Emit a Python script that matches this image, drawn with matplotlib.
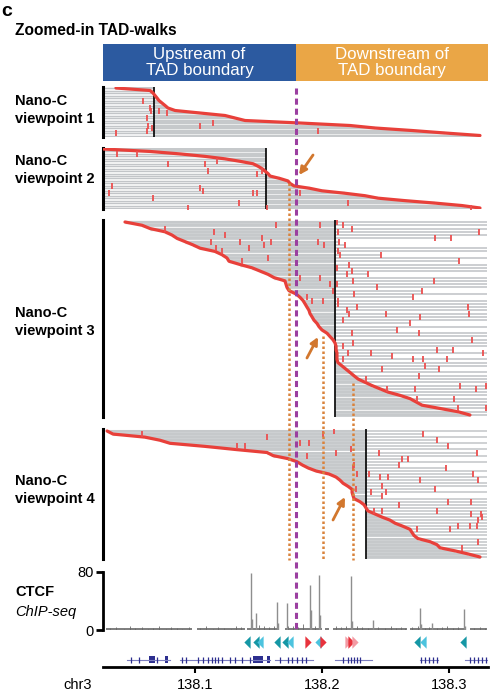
import numpy as np
import matplotlib
matplotlib.use("Agg")
import matplotlib.pyplot as plt

plt.rcParams['font.family'] = ['Liberation Sans', 'DejaVu Sans']

W, H = 491, 696
X0, X1 = 27.6, 330.4          # window, kb past chr3:138,000,000
BOUNDARY = 179.4              # TAD boundary (purple dashed)

# ---- TAD-walk data (kb past 138 Mb), one value per walk row ----
vp1_pos = 67.7
vp1_curve = [37.8, 64.6, 66.9, 68.5, 70.1, 71.6, 74.0, 76.4, 78.7, 84.3,
             103.9, 123.6, 131.4, 139.3, 182.5, 221.9, 241.5, 270.6, 296.6, 324.1]
vp1_ticks = [(5, 59.1), (8, 64.6), (9, 65.4), (9, 71.6), (10, 77.9), (12, 62.2),
             (15, 63.0), (16, 66.1), (17, 62.2), (18, 37.8), (15, 103.9),
             (14, 114.1), (17, 196.7)]

vp2_pos = 155.8
vp2_curve = [27.6, 64.6, 88.2, 107.8, 123.5, 135.3, 145.6, 149.5, 152.7, 155.0,
             157.4, 159.0, 166.8, 173.1, 174.7, 177.8, 190.4, 199.8, 217.9, 233.7,
             243.9, 265.1, 288.7, 309.9, 324.1]
vp2_ticks = [(2, 38.6), (2, 54.3), (6, 78.7), (6, 107.8), (5, 117.3), (9, 110.2),
             (10, 148.7), (9, 152.6), (15, 34.7), (16, 103.9), (17, 106.2),
             (18, 32.3), (18, 145.6), (18, 148.7), (20, 66.9), (22, 134.6),
             (24, 94.5), (18, 182.5), (22, 220.3), (24, 317.0), (24, 156.6)]

vp3_pos = 210.1
vp3_curve = [44.9, 58.3, 64.6, 76.4, 81.9, 85.8, 92.1, 98.4, 103.9, 115.7,
             121.2, 125.1, 126.7, 135.4, 144.8, 151.1, 157.4, 162.1, 170.7, 171.5,
             172.3, 173.9, 179.4, 182.5, 184.9, 186.5, 188.0, 189.6, 190.4, 192.0,
             193.5, 195.9, 197.5, 199.8, 203.8, 206.1, 208.5, 210.1, 210.9, 210.9,
             211.6, 211.6, 211.6, 212.4, 215.6, 218.7, 221.9, 225.0, 228.2, 233.7,
             239.2, 245.5, 251.8, 261.2, 269.1, 273.8, 278.5, 292.6, 306.8, 316.2]
vp3_end = [329.6, 329.6, 329.6, 323.3, 329.6, 301.3, 213.2, 217.9, 329.6, 329.6,
           246.2, 329.6, 307.6, 329.6, 329.6, 329.6, 236.0, 329.6, 329.6, 329.6,
           329.6, 278.5, 329.6, 271.4, 329.6, 329.6, 329.6, 329.6, 329.6, 329.6,
           329.6, 269.1, 329.6, 258.8, 329.6, 329.6, 329.6, 329.6, 329.6, 302.9,
           329.6, 254.9, 329.6, 329.6, 329.6, 291.9, 329.6, 329.6, 329.6, 329.6,
           329.6, 329.6, 329.6, 329.6, 329.6, 329.6, 329.6, 329.6, 329.6, 329.6]
vp3_ticks = [(2, 76.4), (3, 114.9), (4, 123.6), (5, 152.7), (6, 112.5), (6, 135.4),
             (7, 154.2), (6, 159.7), (8, 142.4), (8, 116.5), (9, 121.2), (11, 157.4),
             (12, 136.9), (1, 163.7), (1, 198.3), (6, 196.7), (7, 201.4), (17, 182.5),
             (17, 198.3), (19, 206.1), (21, 208.5), (23, 188.0), (24, 192.0),
             (24, 200.6), (0, 211.6), (9, 212.4), (14, 211.6), (19, 211.6), (24, 212.4),
             (1, 216.7), (2, 223.5), (3, 212.4), (3, 323.3), (5, 301.3), (5, 288.7),
             (6, 213.2), (7, 217.9), (10, 214.0), (10, 246.2), (12, 307.6), (13, 221.1),
             (15, 223.5), (16, 219.5), (16, 236.0), (18, 224.2), (18, 287.9),
             (20, 243.1), (21, 278.5), (22, 225.0), (23, 271.4), (25, 212.4),
             (26, 227.4), (26, 314.7), (28, 315.4), (27, 219.5), (28, 221.1),
             (28, 250.2), (29, 276.9), (30, 216.4), (31, 269.1), (33, 258.8),
             (34, 223.5), (34, 276.1), (36, 317.8), (37, 224.2), (38, 216.4),
             (39, 290.3), (39, 302.9), (40, 220.3), (40, 238.4), (40, 326.5),
             (41, 254.9), (42, 216.4), (42, 271.4), (42, 279.3), (42, 298.2),
             (44, 280.8), (45, 291.9), (45, 247.0), (47, 276.1), (48, 234.4),
             (50, 308.4), (51, 320.9), (50, 329.0), (51, 251.0), (51, 273.0),
             (54, 274.6), (54, 303.7), (57, 306.8), (57, 328.8)]

vp4_pos = 234.4
vp4_curve = [30.8, 35.5, 60.6, 72.4, 80.3, 107.8, 131.4, 156.6, 161.3, 173.1,
             180.2, 184.1, 188.8, 195.1, 205.4, 210.9, 214.0, 216.4, 220.3, 223.5,
             223.5, 224.2, 225.0, 229.7, 232.9, 234.4, 236.0, 241.5, 247.0, 253.3,
             257.3, 263.5, 269.1, 270.6, 272.2, 275.3, 284.7, 290.3, 292.6, 304.4,
             314.7, 324.1]
vp4_end = [329.6, 279.3, 329.6, 290.3, 329.6, 298.9, 329.6, 321.7, 329.6, 267.5,
           329.6, 260.4, 297.4, 329.6, 318.6, 329.6, 322.5, 329.6, 329.6, 288.7,
           329.6, 247.0, 329.6, 329.6, 329.6, 329.6, 329.6, 329.6, 329.6, 329.6,
           329.6, 329.6, 329.6, 329.6, 329.6, 329.6, 329.6, 329.6, 329.6, 329.6,
           329.6, 329.6]
vp4_ticks = [(1, 58.3), (2, 156.6), (5, 133.0), (5, 139.3), (4, 182.5), (4, 189.6),
             (1, 200.6), (0, 209.3), (7, 210.9), (6, 222.7), (8, 188.0), (12, 224.2),
             (14, 227.4), (19, 226.6), (11, 225.0),
             (1, 279.3), (3, 290.3), (5, 298.9), (7, 321.7), (7, 244.7), (9, 267.5),
             (9, 262.8), (11, 260.4), (12, 297.4), (14, 318.6), (14, 236.8),
             (15, 245.4), (15, 251.7), (16, 322.5), (16, 276.9), (18, 247.0),
             (19, 288.7), (20, 238.4), (20, 250.2), (21, 247.0), (23, 298.9),
             (23, 317.0), (24, 260.4), (26, 290.3), (26, 240.7), (26, 247.0),
             (27, 324.9), (27, 317.0), (28, 325.7), (29, 322.5), (31, 306.8),
             (31, 316.2), (31, 321.7), (32, 274.6), (32, 300.5), (36, 322.5),
             (38, 309.9)]

# ---- CTCF ChIP-seq ----
chip_segments = [(30.0, 97.6), (101.5, 139.3), (140.9, 166.0), (170.7, 199.8),
                 (202.2, 205.5), (208.5, 266.7), (269.1, 313.1), (316.2, 330.0)]
peak_kb = [143.8, 147.7, 164.2, 172.5, 190.4, 197.5, 222.4, 240.2, 276.9, 286.1,
           311.8, 144.8, 191.5, 198.5, 223.2, 165.0, 277.7, 312.5]
peak_val = [78.6, 22.9, 38.8, 37.5, 61.7, 75.4, 74.1, 13.7, 30.6, 10, 28.4,
            15, 27, 20, 12, 10, 8, 6]
noise_kb = [33, 38, 44, 49, 53, 58, 63, 67, 72, 77, 81, 86, 90, 95, 104, 109, 114,
            118, 123, 128, 132, 136, 150, 154, 158, 162, 173, 177, 181, 185, 194,
            211, 215, 219, 227, 231, 236, 244, 249, 254, 258, 262, 265, 271, 275,
            281, 284, 290, 294, 298, 303, 307, 319, 324, 328]
noise_val = [3, 4, 2, 5, 3, 4, 2, 3, 5, 2, 4, 3, 2, 4, 3, 5, 2, 4, 3, 2, 6, 4, 7, 5,
             4, 6, 5, 6, 4, 8, 6, 5, 4, 6, 5, 4, 3, 4, 3, 5, 3, 4, 3, 4, 5, 3, 4, 3,
             4, 5, 3, 4, 3, 4, 3]

# ---- CTCF motifs ----
TEAL, LIGHT, MRED, PINK = '#1597a5', '#4cc3de', '#e8323c', '#f39aa3'
motif_kb = [141.1, 148.0, 151.0, 164.2, 170.7, 174.7, 189.1, 196.9, 200.4,
            220.5, 222.4, 225.8, 274.3, 279.5, 310.9]
motif_dir = ['<', '<', '<', '<', '<', '<', '>', '<', '>', '>', '>', '>', '<', '<', '<']
motif_col = [TEAL, TEAL, LIGHT, TEAL, TEAL, LIGHT, MRED, LIGHT, MRED, PINK, MRED,
             PINK, TEAL, LIGHT, TEAL]

# ---- genes ----
gene_spans = [(46.3, 80.3), (88.2, 159.0), (162.9, 192.8), (210.1, 239.2),
              (276.9, 291.1), (312.3, 330.4)]
gene_exons = [[50.0, 56.0, 70.0],
              [89.7, 92.9, 102.3, 106.3, 110.2, 113.4, 115.7, 118.1, 121.2, 127.5,
               131.4, 136.9, 143.2],
              [166.8, 173.1, 176.2, 180.2, 184.1, 187.3],
              [216.4, 220.3, 222.7, 225.0, 227.4, 229.7],
              [277.7, 280.8, 284.0, 287.1, 290.3],
              [316.2, 319.4, 322.5, 325.7, 328.8]]
gene_boxes = [(63.5, 4.7), (76.5, 2.4), (145.6, 7.9), (156.6, 2.0)]

# ---- overlays ----
dotted_kb = [173.9, 200.6, 224.2]
dotted_top = [183, 336, 383]
arrows = [((181.8, 175), (192.8, 155)), ((196.7, 337), (188.0, 358)),
          ((217.9, 497), (208.5, 520))]

RED = '#e8403a'
RED2 = '#ec4f4f'
GREY = '#cdd0d2'
GREY_LINE = '#b3b6b9'
GREY_EXT = '#c2c5c8'
ORANGE = '#d9823b'
PURPLE = '#9b3fa0'


def box(top, bottom, left=103, right=488):
    return [left / W, 1 - bottom / H, (right - left) / W, (bottom - top) / H]


def draw_walks(ax, curve, vp, ticks, spacing, side, ends=None):
    rows = np.arange(len(curve))
    curve = np.array(curve)
    lo = np.minimum(curve, vp)
    hi = np.maximum(curve, vp)
    dense = spacing * 0.72
    ax.hlines(rows, lo, hi, color=GREY, lw=dense)
    ax.hlines(rows, lo, hi, color=GREY_LINE, lw=0.35)
    if side == 'left':
        ax.hlines(rows, X0, lo, color=GREY_EXT, lw=dense * 0.6)
    else:
        ax.hlines(rows, hi, ends, color=GREY_EXT, lw=dense * 0.5)
    ax.plot(curve, rows, color=RED, lw=2.3, zorder=5, solid_joinstyle='round',
            solid_capstyle='round')
    tr, tk = zip(*ticks)
    ax.plot(tk, tr, ls='none', marker='|', ms=4, mew=1.3, color=RED2, zorder=6)
    ax.axvline(vp, color='k', lw=1.2, zorder=4)
    ax.axvline(X0, color='k', lw=2.2, zorder=4, clip_on=False)
    ax.set_xlim(X0, X1)
    ax.set_ylim(len(curve) - 0.5, -0.5)
    ax.axis('off')


fig = plt.figure(figsize=(W / 100, H / 100), dpi=100)

# header
fig.text(1 / W, 1 - 12 / H, 'c', fontsize=14, fontweight='bold', va='center')
fig.text(15 / W, 1 - 30.5 / H, 'Zoomed-in TAD-walks', fontsize=11.2,
         fontweight='bold', va='center')
axh = fig.add_axes(box(44, 81))
axh.barh(0, BOUNDARY - X0, left=X0, height=1, color='#2c5aa0')
axh.barh(0, X1 - BOUNDARY, left=BOUNDARY, height=1, color='#eaa646')
axh.text((X0 + BOUNDARY) / 2, 0, 'Upstream of\nTAD boundary', color='white',
         ha='center', va='center', fontsize=12.2, linespacing=1.1)
axh.text((BOUNDARY + X1) / 2, 0, 'Downstream of\nTAD boundary', color='white',
         ha='center', va='center', fontsize=12.2, linespacing=1.1)
axh.set_xlim(X0, X1)
axh.set_ylim(-0.5, 0.5)
axh.axis('off')

# walk panels: (curve, vp, ticks, top px, bottom px, side, ends, label y)
panels = [(vp1_curve, vp1_pos, vp1_ticks, 88, 135.5, 'left', None, 110),
          (vp2_curve, vp2_pos, vp2_ticks, 149, 208, 'left', None, 170),
          (vp3_curve, vp3_pos, vp3_ticks, 222, 415, 'right', vp3_end, 322),
          (vp4_curve, vp4_pos, vp4_ticks, 431, 557, 'right', vp4_end, 490)]
for i, (cv, vp, tk, top, bot, side, ends, ly) in enumerate(panels):
    sp = (bot - top) / (len(cv) - 1)
    ax = fig.add_axes(box(top - sp / 2, bot + sp / 2))
    draw_walks(ax, cv, vp, tk, sp, side, ends)
    fig.text(15 / W, 1 - ly / H, f'Nano-C\nviewpoint {i + 1}', fontsize=10.5,
             fontweight='bold', va='center', ha='left', linespacing=1.35)

# CTCF ChIP-seq
axc = fig.add_axes(box(571.7, 630))
for s, e in chip_segments:
    axc.plot([s, e], [1.2, 1.2], color='#5a5a5a', lw=1.1, solid_capstyle='butt')
axc.vlines(noise_kb, 0, noise_val, color='#6a6a6a', lw=0.6)
axc.vlines(peak_kb, 0, peak_val, color='#8e8e8e', lw=1.0)
axc.set_xlim(X0, X1)
axc.set_ylim(0, 80)
for s in ['top', 'right', 'bottom']:
    axc.spines[s].set_visible(False)
axc.spines['left'].set_linewidth(2)
axc.set_xticks([])
axc.set_yticks([0, 80])
axc.tick_params(axis='y', length=5, width=2, labelsize=10.5, pad=2)
fig.text(15 / W, 1 - 592 / H, 'CTCF', fontsize=10.5, fontweight='bold', va='center')
fig.text(15 / W, 1 - 612 / H, 'ChIP-seq', fontsize=10.5, fontstyle='italic',
         va='center')

# motifs
axm = fig.add_axes(box(636, 648))
left_tri = [(-0.5, 0), (0.5, 1), (0.5, -1), (-0.5, 0)]
right_tri = [(0.5, 0), (-0.5, 1), (-0.5, -1), (0.5, 0)]
for x, d, c in zip(motif_kb, motif_dir, motif_col):
    axm.plot([x], [0.5], ls='none', marker=left_tri if d == '<' else right_tri,
             ms=9, color=c, mew=0)
axm.set_xlim(X0, X1)
axm.set_ylim(0, 1)
axm.axis('off')

# genes + genomic axis
axg = fig.add_axes(box(650, 667))
NAVY = '#2d2f8f'
for (s, e), ex in zip(gene_spans, gene_exons):
    axg.plot([s, e], [0.42, 0.42], color='#7d7fc0', lw=0.8)
    axg.vlines(ex, 0.25, 0.59, color=NAVY, lw=0.9)
for s, w in gene_boxes:
    axg.bar(s, 0.4, width=w, bottom=0.22, align='edge', color=NAVY)
axg.set_xlim(X0, X1)
axg.set_ylim(0, 1)
for s in ['top', 'right', 'left']:
    axg.spines[s].set_visible(False)
axg.spines['bottom'].set_linewidth(2)
axg.set_yticks([])
axg.set_xticks([100, 200, 300])
axg.set_xticklabels(['138.1', '138.2', '138.3'])
axg.tick_params(axis='x', length=4, width=1.5, labelsize=10.5, pad=4)
fig.text(63 / W, 1 - 685 / H, 'chr3', fontsize=10.5, va='center')

# overlay: boundary, dotted guides, arrows
axo = fig.add_axes(box(80, 640))
axo.set_xlim(X0, X1)
axo.set_ylim(640, 80)
axo.axis('off')
axo.patch.set_alpha(0)
axo.vlines(BOUNDARY, 88, 632, color=PURPLE, lw=2.2, linestyles=(0, (2.0, 1.3)),
           zorder=8)
for x, t in zip(dotted_kb, dotted_top):
    axo.vlines(x, t, 560, color=ORANGE, lw=1.8, linestyles=(0, (1, 1)), zorder=7)
for head, tail in arrows:
    axo.annotate('', xy=head, xytext=tail,
                 arrowprops=dict(arrowstyle='-|>', color='#d2772e', lw=2,
                                 mutation_scale=11, shrinkA=0, shrinkB=0))

fig.savefig('out.png', dpi=100)
